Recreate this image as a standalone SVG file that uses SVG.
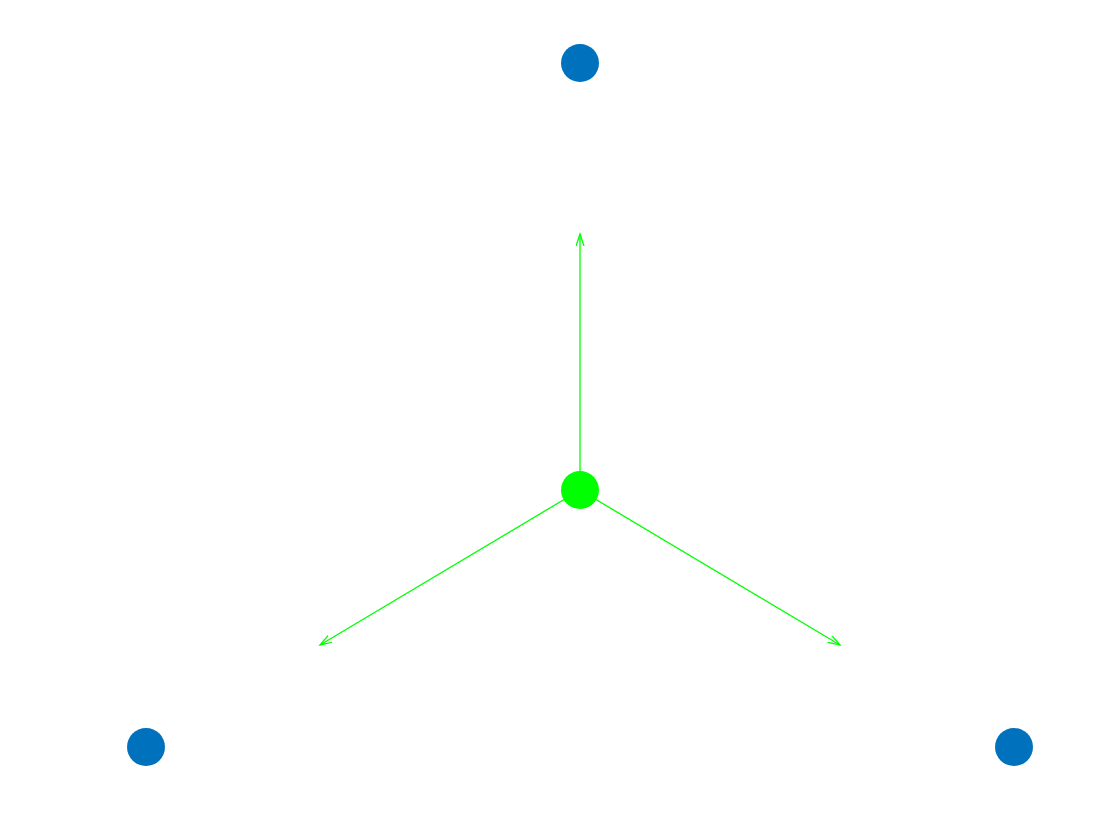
<svg xmlns="http://www.w3.org/2000/svg" width="1120" height="840" viewBox="0 0 1120 840">
<style>
.edge{stroke:#00ff00;stroke-width:1.3;fill:none}
.blue{fill:#0072bd}
.green{fill:#00ff00}
</style>
<defs>
<marker id="ah" markerWidth="14" markerHeight="10" refX="12" refY="4" orient="auto" markerUnits="userSpaceOnUse">
<path d="M0,0 L12,4 L0,8" fill="none" stroke="#00ff00" stroke-width="1.3"/>
</marker>
</defs>
<rect width="1120" height="840" fill="#ffffff"/>
<g id="connectors">
<line class="edge" x1="580" y1="490" x2="580" y2="234" marker-end="url(#ah)"/>
<line class="edge" x1="580" y1="490" x2="320" y2="645" marker-end="url(#ah)"/>
<line class="edge" x1="580" y1="490" x2="840" y2="645" marker-end="url(#ah)"/>
</g>
<g id="node-top"><circle class="blue" cx="580" cy="63" r="19"/></g>
<g id="node-left"><circle class="blue" cx="146" cy="747" r="19"/></g>
<g id="node-right"><circle class="blue" cx="1014" cy="747" r="19"/></g>
<g id="node-center"><circle class="green" cx="580" cy="490" r="19"/></g>
</svg>
